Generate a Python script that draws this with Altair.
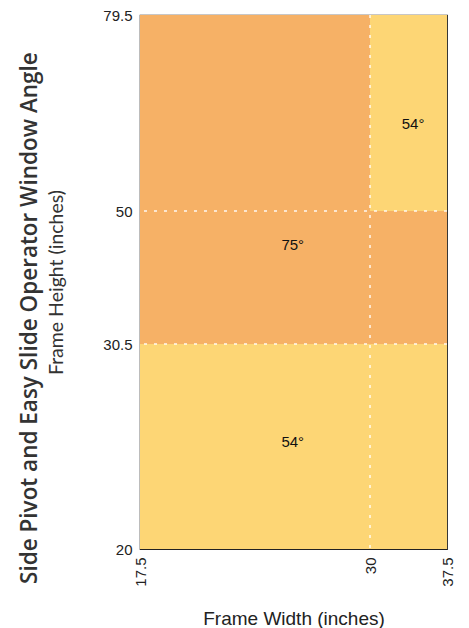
import altair as alt
import pandas as pd

# Regions of the window-angle chart
x_start = [17.5, 17.5, 30, 30]
x_end = [37.5, 30, 37.5, 37.5]
y_start = [20, 30.5, 30.5, 50]
y_end = [30.5, 79.5, 50, 79.5]
angle_class = ["54", "75", "75", "54"]

# Angle labels
label_text = ["75°", "54°", "54°"]
label_x = [25.8, 25.8, 34.2]
label_y = [45.0, 25.5, 63.1]

# Axis ticks and dividing lines
x_ticks = [17.5, 30, 37.5]
y_ticks = [20, 30.5, 50, 79.5]
x_grid = [30]
y_grid = [30.5, 50]

rects = pd.DataFrame({"x": x_start, "x2": x_end, "y": y_start, "y2": y_end, "angle": angle_class})
labels = pd.DataFrame({"text": label_text, "x": label_x, "y": label_y})
xg = pd.DataFrame({"x": x_grid})
yg = pd.DataFrame({"y": y_grid})

W, H = 307, 534
xscale = alt.Scale(domain=x_ticks, range=[0, 230, W])
yscale = alt.Scale(domain=y_ticks, range=[H, 329, 196, 0])

label_font = "Liberation Sans"

xaxis = alt.Axis(values=x_ticks, format=".1~f", title="Frame Width (inches)", grid=False, ticks=False,
                 domain=False, labelAngle=270, labelPadding=8, labelFlush=False,
                 labelFont=label_font, labelFontSize=15, labelColor="#222",
                 titleFont=label_font, titleFontSize=19, titleFontWeight="normal",
                 titleColor="#222", titlePadding=23)
yaxis = alt.Axis(values=y_ticks, format=".1~f", title="Frame Height (inches)", grid=False, ticks=False,
                 domain=False, labelPadding=8, labelFlush=False,
                 labelFont=label_font, labelFontSize=15, labelColor="#222",
                 titleFont="Lato", titleFontSize=19.5, titleFontWeight="normal",
                 titleColor="#333", titlePadding=36)

rect_layer = alt.Chart(rects).mark_rect(stroke=None).encode(
    x=alt.X("x:Q", scale=xscale, axis=xaxis),
    x2="x2:Q",
    y=alt.Y("y:Q", scale=yscale, axis=yaxis),
    y2="y2:Q",
    color=alt.Color("angle:N", scale=alt.Scale(domain=["54", "75"], range=["#FDD675", "#F6B166"]),
                    legend=None),
)

dash = dict(color="white", strokeWidth=1.5, strokeDash=[3, 7], opacity=0.9)
xrule = alt.Chart(xg).mark_rule(**dash).encode(x=alt.X("x:Q", scale=xscale, axis=xaxis))
yrule = alt.Chart(yg).mark_rule(**dash).encode(y=alt.Y("y:Q", scale=yscale, axis=yaxis))

text_layer = alt.Chart(labels).mark_text(font=label_font, fontSize=15, color="#111").encode(
    x=alt.X("x:Q", scale=xscale, axis=xaxis),
    y=alt.Y("y:Q", scale=yscale, axis=yaxis),
    text="text:N",
)

chart = alt.layer(rect_layer, xrule, yrule, text_layer).properties(
    width=W, height=H,
    padding={"left": 11, "top": 0, "right": 5, "bottom": 0},
    title=alt.TitleParams("Side Pivot and Easy Slide Operator Window Angle", orient="left",
                          anchor="middle", frame="bounds", font="Open Sans", fontSize=22.5,
                          fontWeight=600, color="#333", offset=5),
).configure_view(stroke="#222", strokeWidth=1.2)

chart.save("out.html", embed_options={"renderer": "svg", "actions": False})
